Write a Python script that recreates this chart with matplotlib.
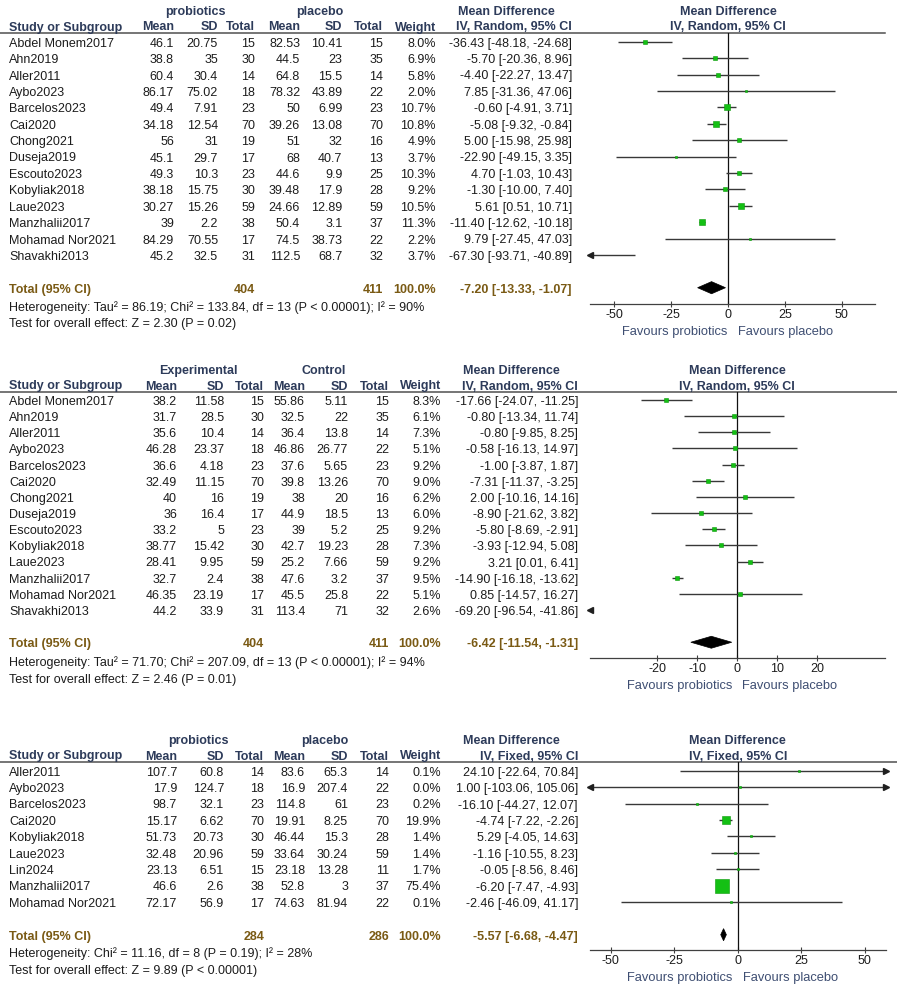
import matplotlib
matplotlib.use('Agg')
import matplotlib.pyplot as plt
import matplotlib.transforms as mtransforms
from matplotlib.patches import Polygon
import numpy as np

plt.rcParams['font.family'] = ['Liberation Sans', 'DejaVu Sans']

# ---- panel 1: probiotics vs placebo, random effects ----
p1_studies = ['Abdel Monem2017', 'Ahn2019', 'Aller2011', 'Aybo2023', 'Barcelos2023', 'Cai2020',
              'Chong2021', 'Duseja2019', 'Escouto2023', 'Kobyliak2018', 'Laue2023',
              'Manzhalii2017', 'Mohamad Nor2021', 'Shavakhi2013']
p1_exp_mean = [46.1, 38.8, 60.4, 86.17, 49.4, 34.18, 56, 45.1, 49.3, 38.18, 30.27, 39, 84.29, 45.2]
p1_exp_sd = [20.75, 35, 30.4, 75.02, 7.91, 12.54, 31, 29.7, 10.3, 15.75, 15.26, 2.2, 70.55, 32.5]
p1_exp_n = [15, 30, 14, 18, 23, 70, 19, 17, 23, 30, 59, 38, 17, 31]
p1_ctl_mean = [82.53, 44.5, 64.8, 78.32, 50, 39.26, 51, 68, 44.6, 39.48, 24.66, 50.4, 74.5, 112.5]
p1_ctl_sd = [10.41, 23, 15.5, 43.89, 6.99, 13.08, 32, 40.7, 9.9, 17.9, 12.89, 3.1, 38.73, 68.7]
p1_ctl_n = [15, 35, 14, 22, 23, 70, 16, 13, 25, 28, 59, 37, 22, 32]
p1_weight = [8.0, 6.9, 5.8, 2.0, 10.7, 10.8, 4.9, 3.7, 10.3, 9.2, 10.5, 11.3, 2.2, 3.7]
p1_md = [-36.43, -5.70, -4.40, 7.85, -0.60, -5.08, 5.00, -22.90, 4.70, -1.30, 5.61, -11.40, 9.79, -67.30]
p1_lo = [-48.18, -20.36, -22.27, -31.36, -4.91, -9.32, -15.98, -49.15, -1.03, -10.00, 0.51, -12.62, -27.45, -93.71]
p1_hi = [-24.68, 8.96, 13.47, 47.06, 3.71, -0.84, 25.98, 3.35, 10.43, 7.40, 10.71, -10.18, 47.03, -40.89]
p1_total = (404, 411, -7.20, -13.33, -1.07)
p1_het = 'Heterogeneity: Tau² = 86.19; Chi² = 133.84, df = 13 (P < 0.00001); I² = 90%'
p1_test = 'Test for overall effect: Z = 2.30 (P = 0.02)'
p1_ticks = [-50, -25, 0, 25, 50]

# ---- panel 2: experimental vs control, random effects ----
p2_studies = p1_studies
p2_exp_mean = [38.2, 31.7, 35.6, 46.28, 36.6, 32.49, 40, 36, 33.2, 38.77, 28.41, 32.7, 46.35, 44.2]
p2_exp_sd = [11.58, 28.5, 10.4, 23.37, 4.18, 11.15, 16, 16.4, 5, 15.42, 9.95, 2.4, 23.19, 33.9]
p2_exp_n = [15, 30, 14, 18, 23, 70, 19, 17, 23, 30, 59, 38, 17, 31]
p2_ctl_mean = [55.86, 32.5, 36.4, 46.86, 37.6, 39.8, 38, 44.9, 39, 42.7, 25.2, 47.6, 45.5, 113.4]
p2_ctl_sd = [5.11, 22, 13.8, 26.77, 5.65, 13.26, 20, 18.5, 5.2, 19.23, 7.66, 3.2, 25.8, 71]
p2_ctl_n = [15, 35, 14, 22, 23, 70, 16, 13, 25, 28, 59, 37, 22, 32]
p2_weight = [8.3, 6.1, 7.3, 5.1, 9.2, 9.0, 6.2, 6.0, 9.2, 7.3, 9.2, 9.5, 5.1, 2.6]
p2_md = [-17.66, -0.80, -0.80, -0.58, -1.00, -7.31, 2.00, -8.90, -5.80, -3.93, 3.21, -14.90, 0.85, -69.20]
p2_lo = [-24.07, -13.34, -9.85, -16.13, -3.87, -11.37, -10.16, -21.62, -8.69, -12.94, 0.01, -16.18, -14.57, -96.54]
p2_hi = [-11.25, 11.74, 8.25, 14.97, 1.87, -3.25, 14.16, 3.82, -2.91, 5.08, 6.41, -13.62, 16.27, -41.86]
p2_total = (404, 411, -6.42, -11.54, -1.31)
p2_het = 'Heterogeneity: Tau² = 71.70; Chi² = 207.09, df = 13 (P < 0.00001); I² = 94%'
p2_test = 'Test for overall effect: Z = 2.46 (P = 0.01)'
p2_ticks = [-20, -10, 0, 10, 20]

# ---- panel 3: probiotics vs placebo, fixed effect ----
p3_studies = ['Aller2011', 'Aybo2023', 'Barcelos2023', 'Cai2020', 'Kobyliak2018', 'Laue2023',
              'Lin2024', 'Manzhalii2017', 'Mohamad Nor2021']
p3_exp_mean = [107.7, 17.9, 98.7, 15.17, 51.73, 32.48, 23.13, 46.6, 72.17]
p3_exp_sd = [60.8, 124.7, 32.1, 6.62, 20.73, 20.96, 6.51, 2.6, 56.9]
p3_exp_n = [14, 18, 23, 70, 30, 59, 15, 38, 17]
p3_ctl_mean = [83.6, 16.9, 114.8, 19.91, 46.44, 33.64, 23.18, 52.8, 74.63]
p3_ctl_sd = [65.3, 207.4, 61, 8.25, 15.3, 30.24, 13.28, 3, 81.94]
p3_ctl_n = [14, 22, 23, 70, 28, 59, 11, 37, 22]
p3_weight = [0.1, 0.0, 0.2, 19.9, 1.4, 1.4, 1.7, 75.4, 0.1]
p3_md = [24.10, 1.00, -16.10, -4.74, 5.29, -1.16, -0.05, -6.20, -2.46]
p3_lo = [-22.64, -103.06, -44.27, -7.22, -4.05, -10.55, -8.56, -7.47, -46.09]
p3_hi = [70.84, 105.06, 12.07, -2.26, 14.63, 8.23, 8.46, -4.93, 41.17]
p3_total = (284, 286, -5.57, -6.68, -4.47)
p3_het = 'Heterogeneity: Chi² = 11.16, df = 8 (P = 0.19); I² = 28%'
p3_test = 'Test for overall effect: Z = 9.89 (P < 0.00001)'
p3_ticks = [-50, -25, 0, 25, 50]

HEAD = '#2d3b5a'
TOTC = '#7a5a14'
BODY = '#1c1c1c'
FAV = '#3e4e72'
GREEN = '#14c014'
FS = 9

fig = plt.figure(figsize=(8.97, 9.91), dpi=100)
bg = fig.add_axes([0, 0, 1, 1])
bg.set_xlim(0, 897)
bg.set_ylim(991, 0)
bg.axis('off')


def fmt(v):
    return '{:g}'.format(v)


def ci_text(m, lo, hi):
    return '{:.2f} [{:.2f}, {:.2f}]'.format(m, lo, hi)


def draw_panel(d, lay):
    cols = lay['cols']
    row0, sp = lay['row0'], lay['sp']
    h1, h2 = lay['h1'], lay['h2']
    # table header
    bg.text(lay['g1'], h1, d['g1'], ha='center', va='center', fontsize=FS, weight='bold', color=HEAD)
    bg.text(lay['g2'], h1, d['g2'], ha='center', va='center', fontsize=FS, weight='bold', color=HEAD)
    bg.text(lay['mdc'], h1, 'Mean Difference', ha='center', va='center', fontsize=FS, weight='bold', color=HEAD)
    bg.text(9, h2, 'Study or Subgroup', ha='left', va='center', fontsize=FS, weight='bold', color=HEAD)
    heads = ['Mean', 'SD', 'Total', 'Mean', 'SD', 'Total', 'Weight', d['method']]
    for x, s in zip(cols, heads):
        bg.text(x, h2, s, ha='right', va='center', fontsize=FS, weight='bold', color=HEAD)
    bg.plot([0, lay['line_end']], [lay['line'], lay['line']], color='#505050', lw=1.1)

    # study rows
    for i, name in enumerate(d['studies']):
        y = row0 + sp * i + 2
        vals = [fmt(d['em'][i]), fmt(d['esd'][i]), str(d['en'][i]), fmt(d['cm'][i]), fmt(d['csd'][i]),
                str(d['cn'][i]), '{:.1f}%'.format(d['w'][i]), ci_text(d['md'][i], d['lo'][i], d['hi'][i])]
        bg.text(9, y, name, ha='left', va='center', fontsize=FS, color=BODY)
        for x, s in zip(cols, vals):
            bg.text(x, y, s, ha='right', va='center', fontsize=FS, color=BODY)

    # total row
    tr = lay['trow']
    yt = row0 + sp * tr + 2
    ne, nc, tm, tlo, thi = d['total']
    bg.text(9, yt, 'Total (95% CI)', ha='left', va='center', fontsize=FS, weight='bold', color=TOTC)
    for x, s in [(cols[2], str(ne)), (cols[5], str(nc)), (cols[6], '100.0%'), (cols[7], ci_text(tm, tlo, thi))]:
        bg.text(x, yt, s, ha='right', va='center', fontsize=FS, weight='bold', color=TOTC)
    bg.text(9, lay['het'], d['het'], ha='left', va='center', fontsize=FS, color=BODY)
    bg.text(9, lay['test'], d['test'], ha='left', va='center', fontsize=FS, color=BODY)

    # forest axes
    x0, x1 = 590, lay['ax_end']
    top, bot = lay['line'], lay['axis']
    ax = fig.add_axes([x0 / 897, 1 - bot / 991, (x1 - x0) / 897, (bot - top) / 991])
    xmin, xmax = lay['xlim']
    ax.set_xlim(xmin, xmax)
    ax.set_ylim((bot - row0) / sp, (top - row0) / sp)
    ax.patch.set_alpha(0)
    for s in ['left', 'right', 'top']:
        ax.spines[s].set_visible(False)
    ax.spines['bottom'].set_color('#404040')
    ax.spines['bottom'].set_linewidth(0.9)
    ax.set_yticks([])
    ax.set_xticks(d['ticks'])
    ax.set_xticklabels([str(t) for t in d['ticks']])
    ax.tick_params(axis='x', direction='inout', length=5, width=0.8, color='#404040',
                   labelsize=FS, labelcolor=BODY, pad=1)
    ax.axvline(0, color='#111111', lw=0.9)

    for i in range(len(d['studies'])):
        lo, hi, m = d['lo'][i], d['hi'][i], d['md'][i]
        if hi > xmin and lo < xmax:
            ax.plot([max(lo, xmin), min(hi, xmax)], [i, i], color='#383838', lw=1.0, solid_capstyle='butt')
        if lo < xmin:
            ax.plot(xmin, i, marker='<', ms=4.2, color='#202020', clip_on=False)
        if hi > xmax:
            ax.plot(xmax, i, marker='>', ms=4.2, color='#202020', clip_on=False)
        side = max(2.3, lay['sq'] * np.sqrt(d['w'][i]))
        ax.plot(m, i, marker='s', ms=side * 0.72, color=GREEN, mec='#0a9a0a', mew=0.4)

    hh = 0.37
    ax.add_patch(Polygon([[tlo, tr], [tm, tr - hh], [thi, tr], [tm, tr + hh]], closed=True,
                         facecolor='black', edgecolor='black', lw=0.5))

    # forest header and favours labels
    tx = mtransforms.blended_transform_factory(ax.transData, bg.transData)
    ax.text(0, h1, 'Mean Difference', transform=tx, ha='center', va='center', fontsize=FS,
            weight='bold', color=HEAD)
    ax.text(0, h2, d['method'], transform=tx, ha='center', va='center', fontsize=FS,
            weight='bold', color=HEAD)
    mid = (x0 + x1) / 2
    bg.text(mid - 5, lay['fav'], 'Favours probiotics', ha='right', va='center', fontsize=9.3, color=FAV)
    bg.text(mid + 5, lay['fav'], 'Favours placebo', ha='left', va='center', fontsize=9.3, color=FAV)


panel1 = dict(studies=p1_studies, em=p1_exp_mean, esd=p1_exp_sd, en=p1_exp_n, cm=p1_ctl_mean,
              csd=p1_ctl_sd, cn=p1_ctl_n, w=p1_weight, md=p1_md, lo=p1_lo, hi=p1_hi,
              total=p1_total, het=p1_het, test=p1_test, ticks=p1_ticks,
              g1='probiotics', g2='placebo', method='IV, Random, 95% CI')
panel2 = dict(studies=p2_studies, em=p2_exp_mean, esd=p2_exp_sd, en=p2_exp_n, cm=p2_ctl_mean,
              csd=p2_ctl_sd, cn=p2_ctl_n, w=p2_weight, md=p2_md, lo=p2_lo, hi=p2_hi,
              total=p2_total, het=p2_het, test=p2_test, ticks=p2_ticks,
              g1='Experimental', g2='Control', method='IV, Random, 95% CI')
panel3 = dict(studies=p3_studies, em=p3_exp_mean, esd=p3_exp_sd, en=p3_exp_n, cm=p3_ctl_mean,
              csd=p3_ctl_sd, cn=p3_ctl_n, w=p3_weight, md=p3_md, lo=p3_lo, hi=p3_hi,
              total=p3_total, het=p3_het, test=p3_test, ticks=p3_ticks,
              g1='probiotics', g2='placebo', method='IV, Fixed, 95% CI')

lay1 = dict(cols=[174, 218, 255, 300, 342.5, 383, 436, 572], g1=195, g2=320, mdc=506,
            h1=12, h2=27.5, line=33.3, line_end=885, row0=41.7, sp=16.4, trow=15,
            het=308, test=324, ax_end=875, axis=304, xlim=(-60.6, 64.6), fav=332, sq=1.55)
lay2 = dict(cols=[177, 224, 264, 305, 348, 389, 441, 578], g1=198, g2=324, mdc=511,
            h1=371, h2=386.5, line=391.7, line_end=897, row0=400, sp=16.15, trow=15,
            het=663, test=680, ax_end=885, axis=658.3, xlim=(-36.75, 37.0), fav=686, sq=1.45)
lay3 = dict(cols=[177, 224, 264, 305, 348, 389, 441, 578], g1=198, g2=325, mdc=511,
            h1=741, h2=756.5, line=762.3, line_end=897, row0=770.7, sp=16.4, trow=10,
            het=954, test=971, ax_end=885.7, axis=950, xlim=(-58.1, 58.2), fav=977.5, sq=1.65)

draw_panel(panel1, lay1)
draw_panel(panel2, lay2)
draw_panel(panel3, lay3)

fig.savefig('out.png', dpi=100, facecolor='white')
